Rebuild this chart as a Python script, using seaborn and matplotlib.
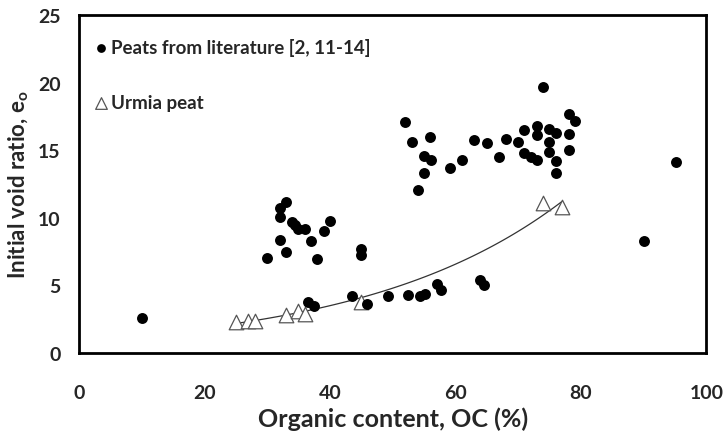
import matplotlib
matplotlib.use("Agg")
import matplotlib.pyplot as plt
import numpy as np
import pandas as pd
import seaborn as sns

# peats from literature
lit_oc = [10, 30, 32, 32, 32, 33, 33, 34, 34.5, 35, 36, 37, 38, 39, 40,
          36.6, 37.5, 43.6, 45, 45, 46, 49.2, 52.5, 54.3, 55.2, 57, 57.7, 64, 64.5,
          52, 53.1, 54, 55, 55, 56, 56.1, 59.1, 61, 63, 65.1, 67, 68, 70,
          71, 71, 72, 73, 73, 73, 74, 75, 75, 75, 76, 76, 76, 78.1, 79.1, 78.1, 78.1,
          90, 95.2]
lit_e0 = [2.6, 7.0, 10.7, 10.1, 8.4, 11.2, 7.5, 9.7, 9.5, 9.2, 9.2, 8.3, 6.95, 9.0, 9.8,
          3.8, 3.5, 4.2, 7.7, 7.25, 3.6, 4.2, 4.3, 4.2, 4.4, 5.1, 4.7, 5.4, 5.0,
          17.1, 15.6, 12.05, 14.6, 13.3, 15.95, 14.3, 13.7, 14.3, 15.75, 15.55, 14.5, 15.8, 15.6,
          16.5, 14.8, 14.5, 14.3, 16.8, 16.1, 19.7, 16.6, 15.6, 14.9, 16.3, 14.2, 13.3, 17.7, 17.2, 16.2, 15.0,
          8.3, 14.1]

# Urmia peat
urm_oc = [25, 27, 28, 33, 35, 36, 45, 74, 77]
urm_e0 = [2.3, 2.4, 2.4, 2.8, 3.1, 2.9, 3.75, 11.1, 10.8]

lit = pd.DataFrame({"oc": lit_oc, "e0": lit_e0})
urm = pd.DataFrame({"oc": urm_oc, "e0": urm_e0})

sns.set_style("white")
plt.rcParams["font.family"] = ["Lato", "DejaVu Sans"]

fig = plt.figure(figsize=(7.23, 4.35), dpi=100)
ax = fig.add_axes([0.109, 0.186, 0.868, 0.777])

# exponential trendline through Urmia data
b, ln_a = np.polyfit(urm["oc"], np.log(urm["e0"]), 1)
xs = np.linspace(25, 77, 100)
ax.plot(xs, np.exp(ln_a) * np.exp(b * xs), color="#333333", lw=0.9, zorder=1)

sns.scatterplot(data=urm, x="oc", y="e0", ax=ax, marker="^", s=110,
                facecolor="white", edgecolor="#555555", linewidth=0.9,
                label="Urmia peat", zorder=2)
sns.scatterplot(data=lit, x="oc", y="e0", ax=ax, marker="o", s=62,
                color="black", edgecolor="black", linewidth=0,
                label="Peats from literature [2, 11-14]", zorder=3)

ax.set_xlim(0, 100)
ax.set_ylim(0, 25)
ax.set_xticks(range(0, 101, 20))
ax.set_yticks(range(0, 26, 5))
ax.tick_params(axis="both", direction="out", length=4, width=1, color="#888888",
               labelsize=14)
ax.tick_params(axis="x", pad=18)
ax.tick_params(axis="y", pad=9)
for lab in ax.get_xticklabels() + ax.get_yticklabels():
    lab.set_fontweight("bold")
for sp in ax.spines.values():
    sp.set_color("black")
    sp.set_linewidth(2)

ax.set_xlabel("Organic content, OC (%)", fontsize=18, fontweight="bold", labelpad=4)
ax.set_ylabel(r"Initial void ratio, e$_\mathregular{o}$", fontsize=16, fontweight="bold", labelpad=5)

h, l = ax.get_legend_handles_labels()
leg = ax.legend(h[::-1], l[::-1], loc="upper left", bbox_to_anchor=(0.0, 0.97),
                frameon=False, labelspacing=2.0, handlelength=1.0,
                handletextpad=0.0, borderaxespad=0.3,
                markerscale=0.8, prop={"weight": "bold", "size": 13.5})

fig.savefig("out.png", dpi=100)
